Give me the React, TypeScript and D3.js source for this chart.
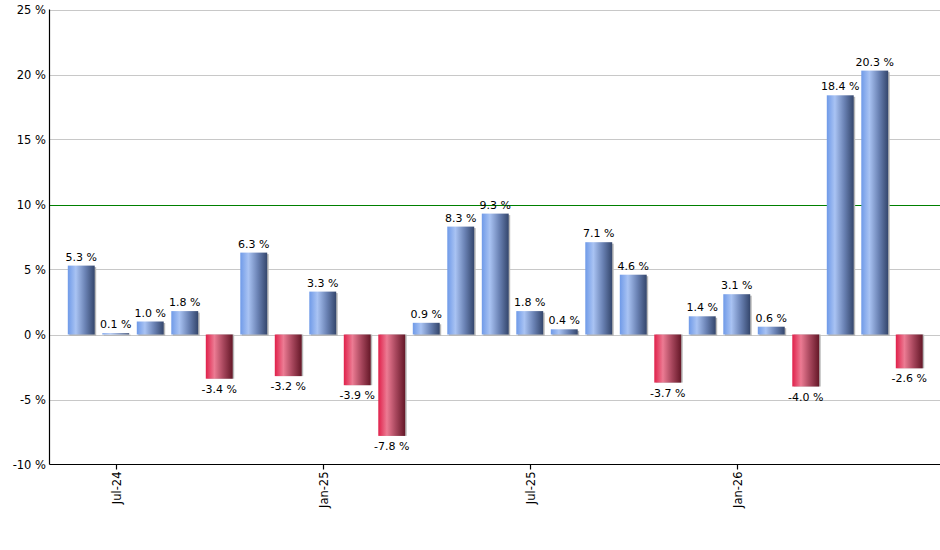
import React, { useEffect, useRef } from 'react';
import * as d3 from 'd3';

// monthly returns, Jun-24 .. Jun-26
const months = [
  'Jun-24', 'Jul-24', 'Aug-24', 'Sep-24', 'Oct-24', 'Nov-24', 'Dec-24',
  'Jan-25', 'Feb-25', 'Mar-25', 'Apr-25', 'May-25', 'Jun-25',
  'Jul-25', 'Aug-25', 'Sep-25', 'Oct-25', 'Nov-25', 'Dec-25',
  'Jan-26', 'Feb-26', 'Mar-26', 'Apr-26', 'May-26', 'Jun-26',
];
const returns = [
  5.3, 0.1, 1.0, 1.8, -3.4, 6.3, -3.2,
  3.3, -3.9, -7.8, 0.9, 8.3, 9.3,
  1.8, 0.4, 7.1, 4.6, -3.7, 1.4,
  3.1, 0.6, -4.0, 18.4, 20.3, -2.6,
];
const xTickLabels = ['Jul-24', 'Jan-25', 'Jul-25', 'Jan-26'];
const yTicks = [-10, -5, 0, 5, 10, 15, 20, 25];
const targetLine = 10;

const W = 940;
const H = 550;

const App = () => {
  const ref = useRef<SVGSVGElement | null>(null);

  useEffect(() => {
    if (!ref.current) return;
    const svg = d3.select(ref.current);
    svg.selectAll('*').remove();

    const left = 49.5;
    const right = 940;
    const top = 9.5;
    const bottom = 464.5;
    const font = '"DejaVu Sans", Verdana, sans-serif';

    const x = d3.scaleBand<string>()
      .domain(months)
      .range([64, 926.5])
      .paddingInner(0.22)
      .paddingOuter(0.11);

    const y = d3.scaleLinear().domain([-10, 25]).range([bottom, top]);

    const defs = svg.append('defs');
    const blue = defs.append('linearGradient').attr('id', 'gBlue')
      .attr('x1', '0').attr('x2', '1').attr('y1', '0').attr('y2', '0');
    [['0%', '#6f9ae8'], ['30%', '#a9c3f3'], ['65%', '#6a82b4'], ['100%', '#34466c']]
      .forEach(([o, c]) => blue.append('stop').attr('offset', o).attr('stop-color', c));
    const red = defs.append('linearGradient').attr('id', 'gRed')
      .attr('x1', '0').attr('x2', '1').attr('y1', '0').attr('y2', '0');
    [['0%', '#e0204a'], ['32%', '#ec7b93'], ['65%', '#a8475d'], ['100%', '#641727']]
      .forEach(([o, c]) => red.append('stop').attr('offset', o).attr('stop-color', c));

    // grid lines
    svg.append('g').selectAll('line')
      .data(yTicks.filter(t => t !== -10 && t !== targetLine))
      .enter().append('line')
      .attr('x1', left).attr('x2', right)
      .attr('y1', d => Math.round(y(d)) + 0.5)
      .attr('y2', d => Math.round(y(d)) + 0.5)
      .attr('stroke', '#c8c8c8')
      .attr('stroke-width', 1);

    // target line
    svg.append('line')
      .attr('x1', left).attr('x2', right)
      .attr('y1', Math.round(y(targetLine)) + 0.5)
      .attr('y2', Math.round(y(targetLine)) + 0.5)
      .attr('stroke', '#008000')
      .attr('stroke-width', 1.2);

    const bw = x.bandwidth();
    const zero = y(0);

    // shadows
    svg.append('g').selectAll('rect')
      .data(returns)
      .enter().append('rect')
      .attr('x', (d, i) => (x(months[i]) as number) + 1.5)
      .attr('y', d => (d >= 0 ? y(d) + 1.5 : zero))
      .attr('width', bw)
      .attr('height', d => Math.abs(y(d) - zero))
      .attr('fill', '#b8b8b8');

    // bars
    svg.append('g').selectAll('rect')
      .data(returns)
      .enter().append('rect')
      .attr('x', (d, i) => x(months[i]) as number)
      .attr('y', d => (d >= 0 ? y(d) : zero))
      .attr('width', bw)
      .attr('height', d => Math.abs(y(d) - zero))
      .attr('fill', d => (d >= 0 ? 'url(#gBlue)' : 'url(#gRed)'));

    // value labels
    svg.append('g').selectAll('text')
      .data(returns)
      .enter().append('text')
      .attr('x', (d, i) => (x(months[i]) as number) + bw / 2)
      .attr('y', d => (d >= 0 ? y(d) - 5 : y(d) + 14))
      .attr('text-anchor', 'middle')
      .style('font-family', font)
      .style('font-size', '11px')
      .style('fill', '#000')
      .text(d => `${d.toFixed(1)} %`);

    // axes
    svg.append('line')
      .attr('x1', left).attr('x2', left)
      .attr('y1', top).attr('y2', bottom)
      .attr('stroke', '#000').attr('stroke-width', 1.2);
    svg.append('line')
      .attr('x1', left).attr('x2', right)
      .attr('y1', bottom).attr('y2', bottom)
      .attr('stroke', '#000').attr('stroke-width', 1.2);

    // y tick labels
    svg.append('g').selectAll('text')
      .data(yTicks)
      .enter().append('text')
      .attr('x', 46)
      .attr('y', d => y(d) + 4)
      .attr('text-anchor', 'end')
      .style('font-family', font)
      .style('font-size', '11.5px')
      .style('fill', '#000')
      .text(d => `${d} %`);

    // x ticks
    const xt = svg.append('g').selectAll('g')
      .data(xTickLabels)
      .enter().append('g')
      .attr('transform', d => `translate(${Math.round((x(d) as number) + bw / 2) + 0.5},${bottom})`);
    xt.append('line')
      .attr('y1', 0).attr('y2', 5)
      .attr('stroke', '#000').attr('stroke-width', 1.2);
    xt.append('text')
      .attr('transform', 'rotate(-90)')
      .attr('x', -7)
      .attr('y', 4)
      .attr('text-anchor', 'end')
      .style('font-family', font)
      .style('font-size', '11.5px')
      .style('fill', '#000')
      .text(d => d);
  }, []);

  return (
    <svg
      ref={ref}
      width={W}
      height={H}
      style={{ position: 'absolute', left: 0, top: 0, background: '#fff' }}
    />
  );
};

export default App;
